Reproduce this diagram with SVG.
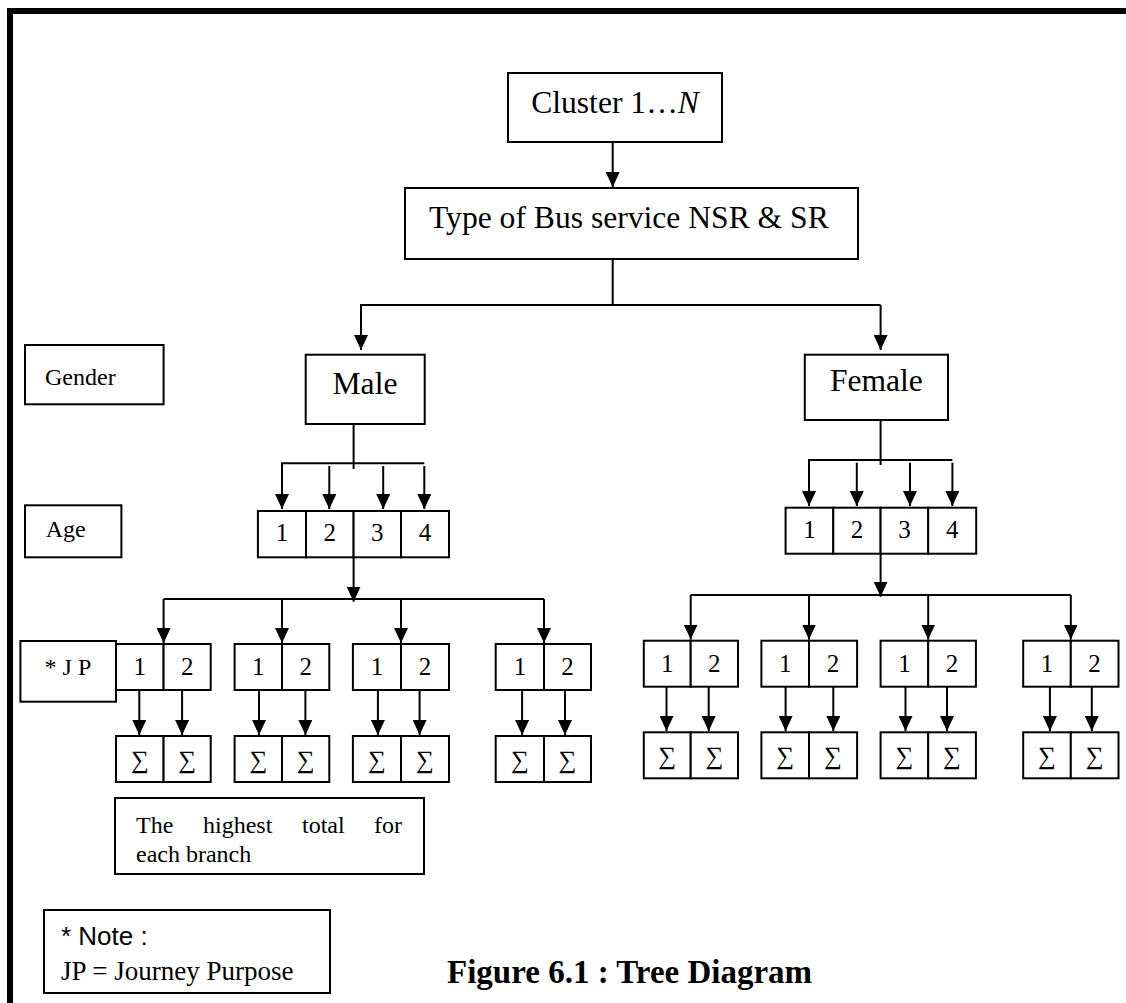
<svg xmlns="http://www.w3.org/2000/svg" width="1126" height="1003" viewBox="0 0 1126 1003">
<defs>
<style>
.box{fill:#fff;stroke:#000;stroke-width:2}
.ln{fill:none;stroke:#000;stroke-width:2}
.ar{fill:none;stroke:#000;stroke-width:2;marker-end:url(#ah)}
.t{font-family:"Liberation Serif","DejaVu Serif",serif;fill:#000}
.big{font-size:31.6px}
.mid{font-size:24px}
.num{font-size:25px;text-anchor:middle}
.body{font-size:24px}
.cap{font-size:33px;font-weight:bold}
.sans{font-family:"Liberation Sans","DejaVu Sans",sans-serif;font-size:26px;fill:#000}
</style>
<marker id="ah" markerWidth="15" markerHeight="14" refX="15" refY="7" orient="auto" markerUnits="userSpaceOnUse" viewBox="0 0 15 14">
<path d="M0,0 L15,7 L0,14 z" fill="#000"/>
</marker>
</defs>
<rect width="1126" height="1003" fill="#fff"/>
<g id="frame">
<line x1="7" y1="11" x2="1126" y2="11" stroke="#000" stroke-width="6"/>
<line x1="10" y1="8" x2="10" y2="1003" stroke="#000" stroke-width="6"/>
</g>

<g id="connectors">
<path class="ar" d="M612.7,142 V187"/>
<path class="ln" d="M612.7,259 V305"/>
<path class="ar" d="M880.6,305 H361 V350"/>
<path class="ar" d="M880.6,305 V350"/>
<path class="ln" d="M353.6,424 V469"/>
<path class="ar" d="M424.3,463.3 H282 V509"/>
<path class="ar" d="M329.3,466 V509"/>
<path class="ar" d="M383.2,466 V509"/>
<path class="ar" d="M424.3,466 V509"/>
<path class="ar" d="M353.6,557 V601.7"/>
<path class="ln" d="M163.6,599 H544"/>
<path class="ar" d="M163.6,599 V643"/>
<path class="ar" d="M282,599 V643"/>
<path class="ar" d="M401,599 V643"/>
<path class="ar" d="M544,599 V643"/>
<path class="ar" d="M139.3,690 V735"/>
<path class="ar" d="M182.1,690 V735"/>
<path class="ar" d="M259,690 V735"/>
<path class="ar" d="M305.4,690 V735"/>
<path class="ar" d="M377.9,690 V735"/>
<path class="ar" d="M419.6,690 V735"/>
<path class="ar" d="M522.1,690 V735"/>
<path class="ar" d="M565,690 V735"/>
<path class="ln" d="M880.6,420 V465"/>
<path class="ar" d="M952.4,460 H809 V506"/>
<path class="ar" d="M856.8,462.7 V506"/>
<path class="ar" d="M910,462.7 V506"/>
<path class="ar" d="M952.4,462.7 V506"/>
<path class="ar" d="M880.6,554 V596.7"/>
<path class="ln" d="M690.7,595 H1070.8"/>
<path class="ar" d="M690.7,595 V639.5"/>
<path class="ar" d="M809,595 V639.5"/>
<path class="ar" d="M928.2,595 V639.5"/>
<path class="ar" d="M1070.8,595 V639.5"/>
<path class="ar" d="M666.5,687 V731"/>
<path class="ar" d="M708.7,687 V731"/>
<path class="ar" d="M785.6,687 V731"/>
<path class="ar" d="M833.3,687 V731"/>
<path class="ar" d="M905.5,687 V731"/>
<path class="ar" d="M947,687 V731"/>
<path class="ar" d="M1049.9,687 V731"/>
<path class="ar" d="M1091.8,687 V731"/>
</g>

<g id="cluster">
<rect class="box" x="508" y="73" width="214" height="69"/>
<text class="t big" x="615" y="113" text-anchor="middle">Cluster 1…<tspan font-style="italic">N</tspan></text>
</g>
<g id="bus-type">
<rect class="box" x="405" y="188" width="453" height="71"/>
<text class="t big" x="429" y="228">Type of Bus service NSR &amp; SR</text>
</g>
<g id="gender-label">
<rect class="box" x="25" y="345" width="138.6" height="59.3"/>
<text class="t mid" x="45" y="385">Gender</text>
</g>
<g id="male">
<rect class="box" x="305.7" y="354.7" width="119" height="69.3"/>
<text class="t big" x="365" y="394" text-anchor="middle">Male</text>
</g>
<g id="female">
<rect class="box" x="804.8" y="354.7" width="143.2" height="65.3"/>
<text class="t big" x="876.4" y="391" text-anchor="middle">Female</text>
</g>
<g id="age-label">
<rect class="box" x="25" y="505.3" width="96.4" height="52"/>
<text class="t mid" x="45.7" y="537">Age</text>
</g>
<g id="male-age">
<rect class="box" x="257.9" y="511" width="48.1" height="46.3"/>
<rect class="box" x="306" y="511" width="47.6" height="46.3"/>
<rect class="box" x="353.6" y="511" width="47.4" height="46.3"/>
<rect class="box" x="401" y="511" width="48" height="46.3"/>
<text class="t num" x="282" y="541">1</text>
<text class="t num" x="329.8" y="541">2</text>
<text class="t num" x="377.3" y="541">3</text>
<text class="t num" x="425" y="541">4</text>
</g>
<g id="female-age">
<rect class="box" x="785.6" y="507.7" width="47.7" height="46"/>
<rect class="box" x="833.3" y="507.7" width="47.3" height="46"/>
<rect class="box" x="880.6" y="507.7" width="47.6" height="46"/>
<rect class="box" x="928.2" y="507.7" width="48" height="46"/>
<text class="t num" x="809.4" y="538">1</text>
<text class="t num" x="857" y="538">2</text>
<text class="t num" x="904.4" y="538">3</text>
<text class="t num" x="952.2" y="538">4</text>
</g>
<g id="jp-label">
<rect class="box" x="20.4" y="641" width="95.6" height="60.7"/>
<text class="t mid" x="44.6" y="675">* J P</text>
</g>
<g id="male-jp-1">
<rect class="box" x="116" y="644" width="47.6" height="46"/><rect class="box" x="163.6" y="644" width="47.1" height="46"/>
<text class="t num" x="139.8" y="675">1</text><text class="t num" x="187.2" y="675">2</text>
</g>
<g id="male-jp-2">
<rect class="box" x="234.6" y="644" width="47.4" height="46"/><rect class="box" x="282" y="644" width="47.3" height="46"/>
<text class="t num" x="258.3" y="675">1</text><text class="t num" x="305.7" y="675">2</text>
</g>
<g id="male-jp-3">
<rect class="box" x="352.9" y="644" width="48.1" height="46"/><rect class="box" x="401" y="644" width="48" height="46"/>
<text class="t num" x="377" y="675">1</text><text class="t num" x="425" y="675">2</text>
</g>
<g id="male-jp-4">
<rect class="box" x="495.7" y="644" width="48.3" height="46"/><rect class="box" x="544" y="644" width="47" height="46"/>
<text class="t num" x="519.9" y="675">1</text><text class="t num" x="567.5" y="675">2</text>
</g>
<g id="male-sum-1">
<rect class="box" x="116" y="736" width="47.6" height="46"/><rect class="box" x="163.6" y="736" width="47.1" height="46"/>
<text class="t num" x="139.8" y="768">∑</text><text class="t num" x="187.2" y="768">∑</text>
</g>
<g id="male-sum-2">
<rect class="box" x="234.6" y="736" width="47.4" height="46"/><rect class="box" x="282" y="736" width="47.3" height="46"/>
<text class="t num" x="258.3" y="768">∑</text><text class="t num" x="305.7" y="768">∑</text>
</g>
<g id="male-sum-3">
<rect class="box" x="352.9" y="736" width="48.1" height="46"/><rect class="box" x="401" y="736" width="48" height="46"/>
<text class="t num" x="377" y="768">∑</text><text class="t num" x="425" y="768">∑</text>
</g>
<g id="male-sum-4">
<rect class="box" x="495.7" y="736" width="48.3" height="46"/><rect class="box" x="544" y="736" width="47" height="46"/>
<text class="t num" x="519.9" y="768">∑</text><text class="t num" x="567.5" y="768">∑</text>
</g>
<g id="female-jp-1">
<rect class="box" x="643.8" y="640.7" width="46.9" height="46"/><rect class="box" x="690.7" y="640.7" width="47.3" height="46"/>
<text class="t num" x="667.2" y="672">1</text><text class="t num" x="714.3" y="672">2</text>
</g>
<g id="female-jp-2">
<rect class="box" x="761.4" y="640.7" width="47.6" height="46"/><rect class="box" x="809" y="640.7" width="48.1" height="46"/>
<text class="t num" x="785.2" y="672">1</text><text class="t num" x="833" y="672">2</text>
</g>
<g id="female-jp-3">
<rect class="box" x="880.6" y="640.7" width="47.6" height="46"/><rect class="box" x="928.2" y="640.7" width="47.7" height="46"/>
<text class="t num" x="904.4" y="672">1</text><text class="t num" x="952" y="672">2</text>
</g>
<g id="female-jp-4">
<rect class="box" x="1023.2" y="640.7" width="47.6" height="46"/><rect class="box" x="1070.8" y="640.7" width="47.7" height="46"/>
<text class="t num" x="1047" y="672">1</text><text class="t num" x="1094.6" y="672">2</text>
</g>
<g id="female-sum-1">
<rect class="box" x="643.8" y="732.3" width="46.9" height="46"/><rect class="box" x="690.7" y="732.3" width="47.3" height="46"/>
<text class="t num" x="667.2" y="764">∑</text><text class="t num" x="714.3" y="764">∑</text>
</g>
<g id="female-sum-2">
<rect class="box" x="761.4" y="732.3" width="47.6" height="46"/><rect class="box" x="809" y="732.3" width="48.1" height="46"/>
<text class="t num" x="785.2" y="764">∑</text><text class="t num" x="833" y="764">∑</text>
</g>
<g id="female-sum-3">
<rect class="box" x="880.6" y="732.3" width="47.6" height="46"/><rect class="box" x="928.2" y="732.3" width="47.7" height="46"/>
<text class="t num" x="904.4" y="764">∑</text><text class="t num" x="952" y="764">∑</text>
</g>
<g id="female-sum-4">
<rect class="box" x="1023.2" y="732.3" width="47.6" height="46"/><rect class="box" x="1070.8" y="732.3" width="47.7" height="46"/>
<text class="t num" x="1047" y="764">∑</text><text class="t num" x="1094.6" y="764">∑</text>
</g>
<g id="highest-note">
<rect class="box" x="115" y="798" width="309" height="76"/>
<text class="t body" x="136" y="833">The</text>
<text class="t body" x="203" y="833">highest</text>
<text class="t body" x="302" y="833">total</text>
<text class="t body" x="374" y="833">for</text>
<text class="t body" x="136" y="862">each branch</text>
</g>
<g id="legend">
<rect class="box" x="44" y="910" width="286" height="83"/>
<text class="sans" x="61" y="945">* Note :</text>
<text class="t" font-size="27" x="61" y="980">JP = Journey Purpose</text>
</g>
<text class="t cap" x="447" y="983">Figure  6.1 : Tree Diagram</text>
</svg>
